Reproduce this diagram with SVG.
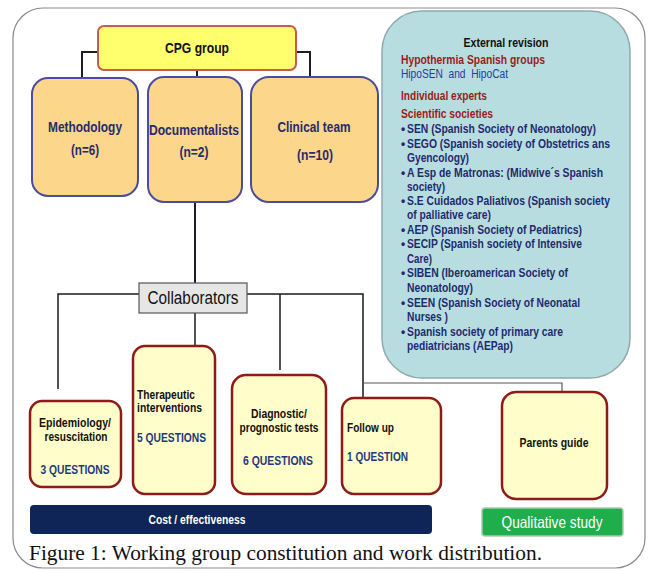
<svg xmlns="http://www.w3.org/2000/svg" width="653" height="571" viewBox="0 0 653 571">
<style>
text{font-family:"Liberation Sans",Arial,sans-serif;}
.b{font-weight:bold;}
.frame{fill:none;stroke:#8a8a8a;stroke-width:1.2;}
.conn{fill:none;stroke:#1c1c2a;stroke-width:2;}
.conn2{fill:none;stroke:#1a1a1a;stroke-width:1.5;}
.conn3{fill:none;stroke:#555;stroke-width:1.2;}
.team{fill:#FBD68B;stroke:#4C4C9C;stroke-width:2;}
.tt{font-size:14.5px;font-weight:bold;fill:#2A2A6E;text-anchor:middle;}
.task{fill:#FFFDC9;stroke:#8E1B1B;stroke-width:2.5;}
.tk{font-size:12.5px;font-weight:bold;fill:#111;}
.q{font-size:12.5px;font-weight:bold;fill:#1F3A7A;}
.red{font-size:12px;font-weight:bold;fill:#9B1B1B;}
.nv{font-size:12px;font-weight:bold;fill:#1F2A6E;}
</style>
<rect class="frame" x="13" y="8" width="632" height="560" rx="30"/>
<text x="29" y="560" style="font-family:'Liberation Serif',serif" font-size="20" fill="#111" textLength="513" lengthAdjust="spacingAndGlyphs">Figure 1: Working group constitution and work distribution.</text>

<g id="connectors">
<polyline class="conn" points="98,52 82,52 82,79"/>
<polyline class="conn" points="296,52 310,52 310,78"/>
<line class="conn" x1="197" y1="70" x2="197" y2="78"/>
<line class="conn" x1="195" y1="202" x2="195" y2="283"/>
<polyline class="conn2" points="58,389 58,294 139,294"/>
<polyline class="conn2" points="247,294 363,294 363,398"/>
<line class="conn2" x1="195" y1="313" x2="195" y2="346"/>
<line class="conn2" x1="280" y1="294" x2="280" y2="370"/>
<polyline class="conn3" points="363,383 562,383 562,392"/>
</g>

<g id="external-revision">
<rect x="382" y="11" width="248" height="367" rx="40" fill="#B8DDE1" stroke="#8FAAAD" stroke-width="1.5"/>
<text x="506" y="47" class="b" font-size="12" fill="#111" text-anchor="middle" textLength="85" lengthAdjust="spacingAndGlyphs">External revision</text>
<text x="401" y="64" class="red" textLength="144" lengthAdjust="spacingAndGlyphs">Hypothermia Spanish groups</text>
<text x="401" y="78" font-size="12" fill="#1F3AA0" style="white-space:pre" xml:space="preserve" textLength="107" lengthAdjust="spacingAndGlyphs">HipoSEN  and  HipoCat</text>
<text x="401" y="100" class="red" textLength="86" lengthAdjust="spacingAndGlyphs">Individual experts</text>
<text x="401" y="118" class="red" textLength="92" lengthAdjust="spacingAndGlyphs">Scientific societies</text>
<g class="nv">
<text x="401" y="133">•</text><text x="407" y="133" textLength="189" lengthAdjust="spacingAndGlyphs">SEN (Spanish Society of Neonatology)</text>
<text x="401" y="148">•</text><text x="407" y="148" textLength="203" lengthAdjust="spacingAndGlyphs">SEGO (Spanish society of Obstetrics ans</text>
<text x="407" y="162" textLength="62" lengthAdjust="spacingAndGlyphs">Gyencology)</text>
<text x="401" y="177">•</text><text x="407" y="177" textLength="196" lengthAdjust="spacingAndGlyphs">A Esp de Matronas: (Midwive´s Spanish</text>
<text x="407" y="191" textLength="38" lengthAdjust="spacingAndGlyphs">society)</text>
<text x="401" y="205">•</text><text x="407" y="205" textLength="203" lengthAdjust="spacingAndGlyphs">S.E Cuidados Paliativos (Spanish society</text>
<text x="407" y="219" textLength="84" lengthAdjust="spacingAndGlyphs">of palliative care)</text>
<text x="401" y="234">•</text><text x="407" y="234" textLength="175" lengthAdjust="spacingAndGlyphs">AEP (Spanish Society of Pediatrics)</text>
<text x="401" y="248">•</text><text x="407" y="248" textLength="175" lengthAdjust="spacingAndGlyphs">SECIP (Spanish society of Intensive</text>
<text x="407" y="263" textLength="25" lengthAdjust="spacingAndGlyphs">Care)</text>
<text x="401" y="277">•</text><text x="407" y="277" textLength="161" lengthAdjust="spacingAndGlyphs">SIBEN (Iberoamerican Society of</text>
<text x="407" y="292" textLength="66" lengthAdjust="spacingAndGlyphs">Neonatology)</text>
<text x="401" y="307">•</text><text x="407" y="307" textLength="173" lengthAdjust="spacingAndGlyphs">SEEN (Spanish Society of Neonatal</text>
<text x="407" y="321" textLength="41" lengthAdjust="spacingAndGlyphs">Nurses )</text>
<text x="401" y="336">•</text><text x="407" y="336" textLength="156" lengthAdjust="spacingAndGlyphs">Spanish society of primary care</text>
<text x="407" y="350" textLength="106" lengthAdjust="spacingAndGlyphs">pediatricians (AEPap)</text>
</g>
</g>

<g id="cpg-group">
<rect x="98" y="26" width="198" height="44" rx="6" fill="#FFFF6E" stroke="#C65A50" stroke-width="2"/>
<text x="197" y="53" class="b" font-size="14.5" fill="#111" text-anchor="middle" textLength="64" lengthAdjust="spacingAndGlyphs">CPG group</text>
</g>

<g id="methodology">
<rect class="team" x="32" y="78" width="106" height="118" rx="16"/>
<text class="tt" x="85" y="132" textLength="74" lengthAdjust="spacingAndGlyphs">Methodology</text>
<text class="tt" x="85" y="155" textLength="28" lengthAdjust="spacingAndGlyphs">(n=6)</text>
</g>
<g id="documentalists">
<rect class="team" x="148" y="77" width="94" height="125" rx="16"/>
<text class="tt" x="194" y="135" textLength="90" lengthAdjust="spacingAndGlyphs">Documentalists</text>
<text class="tt" x="194" y="157" textLength="29" lengthAdjust="spacingAndGlyphs">(n=2)</text>
</g>
<g id="clinical-team">
<rect class="team" x="251" y="77" width="127" height="125" rx="18"/>
<text class="tt" x="314" y="132" textLength="73" lengthAdjust="spacingAndGlyphs">Clinical team</text>
<text class="tt" x="315" y="160" textLength="36" lengthAdjust="spacingAndGlyphs">(n=10)</text>
</g>

<g id="collaborators">
<rect x="139" y="283" width="108" height="30" fill="#E6E6E6" stroke="#555" stroke-width="1.2"/>
<text x="193" y="304" font-size="17.5" fill="#111" text-anchor="middle" textLength="91" lengthAdjust="spacingAndGlyphs">Collaborators</text>
</g>

<g id="epidemiology">
<rect class="task" x="30" y="401" width="91" height="86" rx="12"/>
<text class="tk" x="75" y="427" text-anchor="middle" textLength="72" lengthAdjust="spacingAndGlyphs">Epidemiology/</text>
<text class="tk" x="76" y="441" text-anchor="middle" textLength="63" lengthAdjust="spacingAndGlyphs">resuscitation</text>
<text class="q" x="75" y="474" text-anchor="middle" textLength="69" lengthAdjust="spacingAndGlyphs">3 QUESTIONS</text>
</g>
<g id="therapeutic">
<rect class="task" x="133" y="346" width="82" height="148" rx="12"/>
<text class="tk" x="137" y="399" textLength="58" lengthAdjust="spacingAndGlyphs">Therapeutic</text>
<text class="tk" x="137" y="412" textLength="65" lengthAdjust="spacingAndGlyphs">interventions</text>
<text class="q" x="137" y="442" textLength="69" lengthAdjust="spacingAndGlyphs">5 QUESTIONS</text>
</g>
<g id="diagnostic">
<rect class="task" x="232" y="375" width="94" height="119" rx="14"/>
<text class="tk" x="279" y="418" text-anchor="middle" textLength="56" lengthAdjust="spacingAndGlyphs">Diagnostic/</text>
<text class="tk" x="279" y="432" text-anchor="middle" textLength="79" lengthAdjust="spacingAndGlyphs">prognostic tests</text>
<text class="q" x="278" y="465" text-anchor="middle" textLength="70" lengthAdjust="spacingAndGlyphs">6 QUESTIONS</text>
</g>
<g id="follow-up">
<rect class="task" x="342" y="398" width="99" height="96" rx="12"/>
<text class="tk" x="347" y="432" textLength="47" lengthAdjust="spacingAndGlyphs">Follow up</text>
<text class="q" x="347" y="461" textLength="61" lengthAdjust="spacingAndGlyphs">1 QUESTION</text>
</g>
<g id="parents-guide">
<rect class="task" x="502" y="392" width="105" height="107" rx="14"/>
<text class="tk" x="554" y="447" text-anchor="middle" textLength="69" lengthAdjust="spacingAndGlyphs">Parents guide</text>
</g>

<g id="cost-effectiveness">
<rect x="30" y="505" width="402" height="29" rx="4" fill="#0F2557"/>
<text x="197" y="524" class="b" font-size="12.5" fill="#fff" text-anchor="middle" textLength="97" lengthAdjust="spacingAndGlyphs">Cost / effectiveness</text>
</g>
<g id="qualitative-study">
<rect x="482" y="508" width="141" height="28" rx="3" fill="#1FAE4B" stroke="#A9C9AE" stroke-width="1.5"/>
<text x="552" y="528" font-size="16.5" fill="#fff" text-anchor="middle" textLength="101" lengthAdjust="spacingAndGlyphs">Qualitative study</text>
</g>
</svg>
